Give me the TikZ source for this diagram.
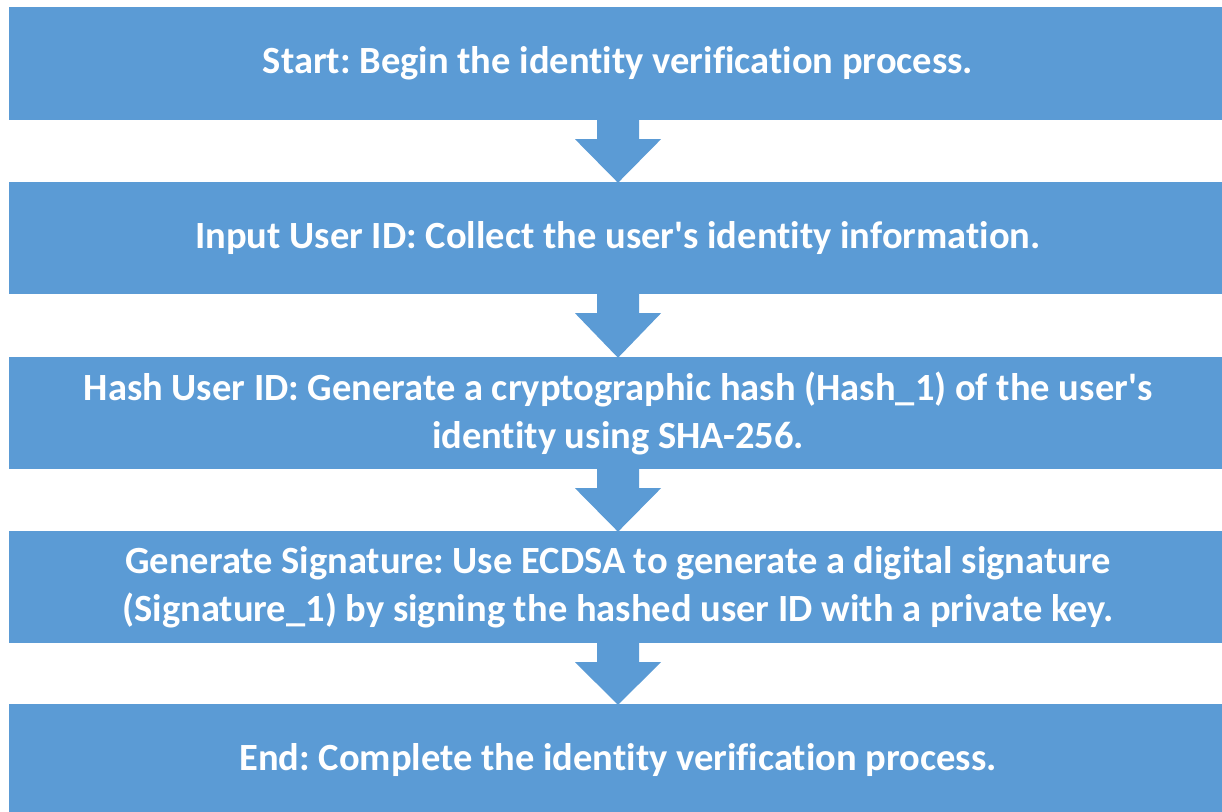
\documentclass[tikz,border=0pt]{standalone}
\usepackage{fontspec}
\setmainfont{Carlito}[Ligatures={NoCommon}]
\usetikzlibrary{calc}

\definecolor{stepblue}{HTML}{5B9BD5}

\tikzset{
  x=1pt, y=1pt,
  stepbox/.style={
    rectangle, fill=stepblue, draw=none, inner sep=0pt,
    minimum width=1218pt, minimum height=113pt,
    text=white, align=center,
    font=\fontsize{38.5}{48}\selectfont\bfseries
  },
  flowarrow/.style={fill=stepblue, draw=none}
}

% block arrow from the bottom of one box to the top of the next
\newcommand{\blockarrow}[2]{%
  \fill[flowarrow]
    ($(#1.south)+(-21,1)$) -- ($(#1.south)+(-21,-19)$) --
    ($(#1.south)+(-43,-19)$) -- ($(#2.north)+(0,-1)$) --
    ($(#1.south)+(43,-19)$) -- ($(#1.south)+(21,-19)$) --
    ($(#1.south)+(21,1)$) -- cycle;}

\begin{document}
\frenchspacing
\begin{tikzpicture}
\useasboundingbox (0,0) rectangle (1222,811);
\clip (0,0) rectangle (1222,811);

\node[stepbox] (start) at (618,747.5)
  {Start: Begin the identity verification process.};
\node[stepbox, minimum height=112pt] (input) at (618,573)
  {Input User ID: Collect the user\textquotesingle s identity information.};
\node[stepbox, minimum height=112pt] (hash) at (618,398)
  {Hash User ID: Generate a cryptographic hash (Hash\_1) of the user\textquotesingle s\\identity using SHA-256.};
\node[stepbox, minimum height=112pt] (sign) at (618,224)
  {Generate Signature: Use ECDSA to generate a digital signature\\(Signature\_1) by signing the hashed user ID with a private key.};
\node[stepbox, minimum height=112pt] (finish) at (618,51)
  {End: Complete the identity verification process.};

\blockarrow{start}{input}
\blockarrow{input}{hash}
\blockarrow{hash}{sign}
\blockarrow{sign}{finish}
\end{tikzpicture}
\end{document}
